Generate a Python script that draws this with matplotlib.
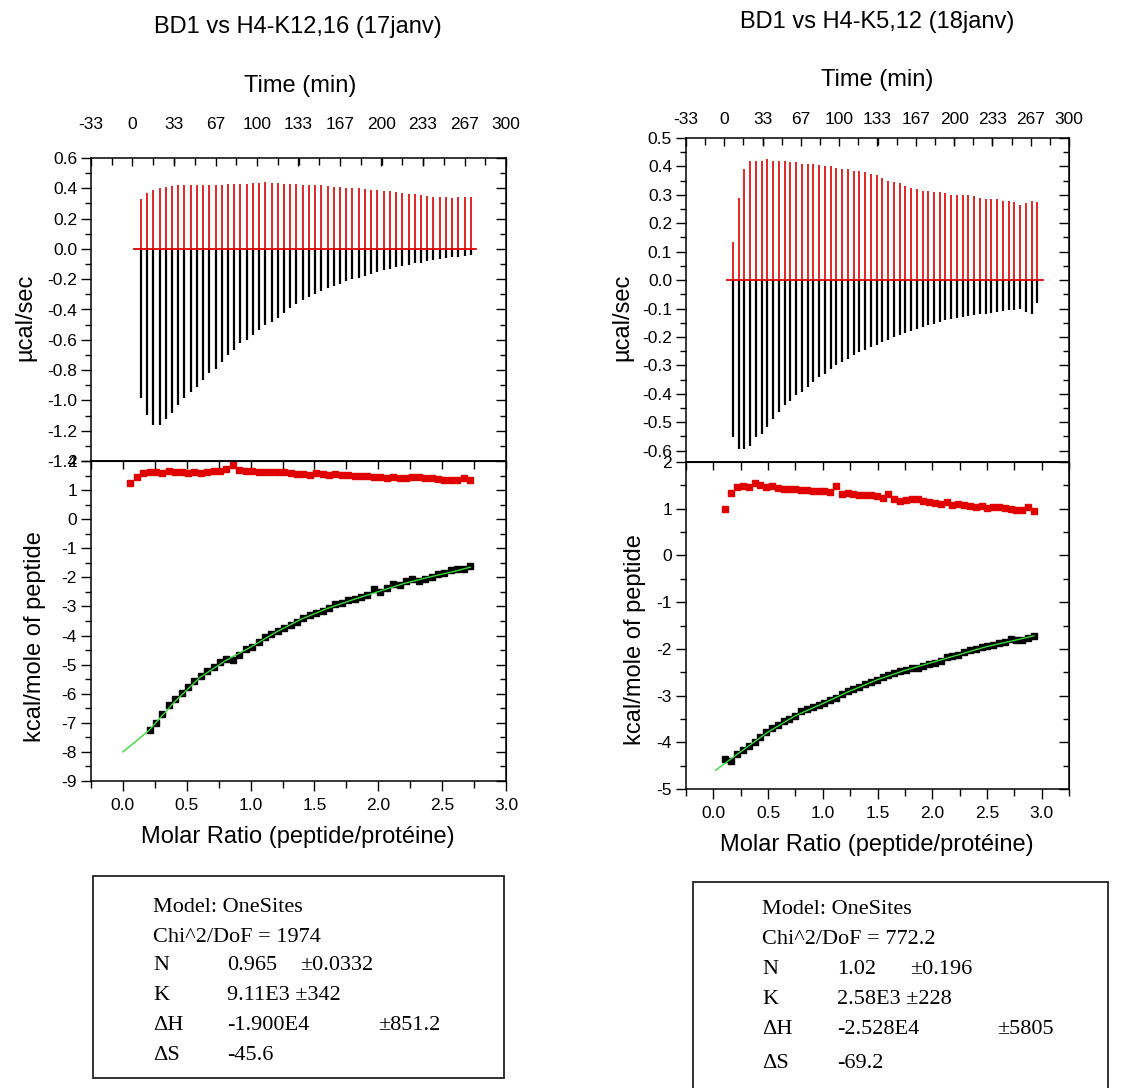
import matplotlib
matplotlib.use("Agg")
import matplotlib.pyplot as plt
from matplotlib.ticker import FixedLocator, MultipleLocator, FormatStrFormatter
from matplotlib.patches import Rectangle

plt.rcParams['font.family'] = ['Liberation Sans', 'DejaVu Sans']
plt.rcParams['axes.unicode_minus'] = False

# ---------------- data ----------------
# left run: BD1 vs H4-K12,16 (17janv)
inj_time_left = [6.7, 11.7, 16.7, 21.7, 26.7, 31.7, 36.7, 41.7, 46.7, 51.7,
                 56.7, 61.7, 66.7, 71.7, 76.7, 81.7, 86.7, 91.7, 96.7, 101.7,
                 106.7, 111.7, 116.7, 121.7, 126.7, 131.7, 136.7, 141.7, 146.7, 151.7,
                 156.7, 161.7, 166.7, 171.7, 176.7, 181.7, 186.7, 191.7, 196.7, 201.7,
                 206.7, 211.7, 216.7, 221.7, 226.7, 231.7, 236.7, 241.7, 246.7, 251.7,
                 256.7, 261.7, 266.7, 271.7]
sample_peak_left = [-0.985, -1.095, -1.16, -1.16, -1.12, -1.085, -1.03, -0.985, -0.945, -0.91,
                    -0.865, -0.82, -0.79, -0.745, -0.70, -0.665, -0.62, -0.60, -0.57, -0.535,
                    -0.505, -0.48, -0.455, -0.425, -0.39, -0.365, -0.34, -0.315, -0.295, -0.275,
                    -0.26, -0.245, -0.23, -0.215, -0.20, -0.19, -0.176, -0.163, -0.152, -0.141,
                    -0.13, -0.12, -0.112, -0.104, -0.096, -0.09, -0.083, -0.076, -0.069, -0.062,
                    -0.056, -0.051, -0.046, -0.04]
ref_peak_left = [0.33, 0.37, 0.39, 0.40, 0.41, 0.415, 0.42, 0.42, 0.42, 0.42,
                 0.42, 0.42, 0.425, 0.425, 0.43, 0.43, 0.43, 0.43, 0.435, 0.435,
                 0.44, 0.435, 0.435, 0.43, 0.43, 0.43, 0.425, 0.425, 0.42, 0.42,
                 0.415, 0.41, 0.41, 0.405, 0.40, 0.40, 0.395, 0.39, 0.39, 0.385,
                 0.38, 0.375, 0.37, 0.365, 0.36, 0.355, 0.35, 0.345, 0.34, 0.34,
                 0.335, 0.34, 0.345, 0.34]
baseline_left = [1.0, 276.0]

ratio_left = [0.058, 0.108, 0.158, 0.209, 0.259, 0.309, 0.359, 0.409, 0.460, 0.510,
              0.560, 0.610, 0.660, 0.711, 0.761, 0.811, 0.861, 0.911, 0.962, 1.012,
              1.062, 1.112, 1.162, 1.213, 1.263, 1.313, 1.363, 1.413, 1.464, 1.514,
              1.564, 1.614, 1.664, 1.715, 1.765, 1.815, 1.865, 1.915, 1.966, 2.016,
              2.066, 2.116, 2.166, 2.217, 2.267, 2.317, 2.367, 2.417, 2.468, 2.518,
              2.568, 2.618, 2.668, 2.719]
ref_heat_left = [1.26, 1.46, 1.60, 1.63, 1.63, 1.60, 1.64, 1.63, 1.62, 1.60,
                 1.62, 1.60, 1.62, 1.64, 1.66, 1.71, 1.86, 1.69, 1.67, 1.64,
                 1.62, 1.61, 1.61, 1.61, 1.61, 1.60, 1.57, 1.55, 1.51, 1.58,
                 1.57, 1.51, 1.55, 1.52, 1.52, 1.50, 1.50, 1.48, 1.44, 1.44,
                 1.40, 1.46, 1.41, 1.41, 1.46, 1.45, 1.43, 1.41, 1.39, 1.35,
                 1.35, 1.35, 1.40, 1.34]
first_sample_left = 3
sample_heat_left = [-7.24, -6.99, -6.71, -6.40, -6.19, -5.96, -5.77, -5.56, -5.39, -5.22,
                    -5.07, -4.91, -4.82, -4.84, -4.67, -4.47, -4.38, -4.22, -4.05, -3.96,
                    -3.84, -3.75, -3.65, -3.52, -3.38, -3.30, -3.21, -3.15, -3.04, -2.93,
                    -2.87, -2.78, -2.75, -2.66, -2.62, -2.41, -2.50, -2.35, -2.24, -2.27,
                    -2.12, -2.04, -2.12, -2.07, -1.98, -1.89, -1.84, -1.75, -1.72, -1.70,
                    -1.61]
fit_x_left = [0.0, 0.2, 0.4, 0.6, 0.8, 1.0, 1.2, 1.4, 1.6, 1.8, 2.0, 2.2, 2.4, 2.6, 2.72]
fit_y_left = [-8.0, -7.28, -6.3, -5.45, -4.87, -4.4, -3.88, -3.43, -3.07, -2.77,
              -2.49, -2.21, -1.99, -1.79, -1.65]

# right run: BD1 vs H4-K5,12 (18janv)
inj_time_right = [7.5, 12.5, 17.5, 22.5, 27.5, 32.5, 37.5, 42.5, 47.5, 52.5,
                  57.5, 62.5, 67.5, 72.5, 77.5, 82.5, 87.5, 92.5, 97.5, 102.5,
                  107.5, 112.5, 117.5, 122.5, 127.5, 132.5, 137.5, 142.5, 147.5, 152.5,
                  157.5, 162.5, 167.5, 172.5, 177.5, 182.5, 187.5, 192.5, 197.5, 202.5,
                  207.5, 212.5, 217.5, 222.5, 227.5, 232.5, 237.5, 242.5, 247.5, 252.5,
                  257.5, 262.5, 267.5, 272.5]
sample_peak_right = [-0.553, -0.594, -0.596, -0.582, -0.553, -0.541, -0.518, -0.488, -0.465, -0.441,
                     -0.424, -0.406, -0.394, -0.376, -0.359, -0.341, -0.329, -0.312, -0.30, -0.288,
                     -0.276, -0.265, -0.253, -0.245, -0.235, -0.227, -0.218, -0.209, -0.20, -0.194,
                     -0.186, -0.179, -0.171, -0.165, -0.159, -0.153, -0.148, -0.141, -0.138, -0.133,
                     -0.129, -0.126, -0.124, -0.12, -0.118, -0.115, -0.112, -0.108, -0.106, -0.104,
                     -0.101, -0.112, -0.118, -0.082]
ref_peak_right = [0.135, 0.29, 0.39, 0.42, 0.42, 0.42, 0.425, 0.42, 0.42, 0.42,
                  0.415, 0.415, 0.41, 0.41, 0.41, 0.405, 0.40, 0.40, 0.395, 0.39,
                  0.39, 0.385, 0.385, 0.38, 0.375, 0.37, 0.36, 0.35, 0.345, 0.34,
                  0.33, 0.325, 0.32, 0.315, 0.315, 0.31, 0.31, 0.305, 0.30, 0.30,
                  0.30, 0.30, 0.295, 0.29, 0.285, 0.285, 0.285, 0.28, 0.28, 0.275,
                  0.265, 0.27, 0.28, 0.275]
baseline_right = [2.0, 277.0]

ratio_right = [0.110, 0.163, 0.216, 0.270, 0.323, 0.376, 0.429, 0.482, 0.536, 0.589,
               0.642, 0.695, 0.748, 0.802, 0.855, 0.908, 0.961, 1.014, 1.068, 1.121,
               1.174, 1.227, 1.280, 1.334, 1.387, 1.440, 1.493, 1.546, 1.600, 1.653,
               1.706, 1.759, 1.812, 1.866, 1.919, 1.972, 2.025, 2.078, 2.132, 2.185,
               2.238, 2.291, 2.344, 2.398, 2.451, 2.504, 2.557, 2.610, 2.664, 2.717,
               2.770, 2.823, 2.876, 2.930]
ref_heat_right = [1.00, 1.33, 1.46, 1.49, 1.47, 1.55, 1.50, 1.47, 1.49, 1.45,
                  1.43, 1.43, 1.42, 1.40, 1.39, 1.38, 1.37, 1.38, 1.36, 1.48,
                  1.32, 1.34, 1.31, 1.29, 1.29, 1.29, 1.28, 1.22, 1.31, 1.21,
                  1.17, 1.18, 1.20, 1.21, 1.17, 1.14, 1.12, 1.10, 1.14, 1.08,
                  1.11, 1.08, 1.05, 1.03, 1.06, 1.02, 1.04, 1.04, 1.01, 0.99,
                  0.98, 0.98, 1.04, 0.95]
sample_heat_right = [-4.36, -4.40, -4.25, -4.16, -4.09, -3.99, -3.88, -3.79, -3.69, -3.64,
                     -3.55, -3.50, -3.43, -3.33, -3.28, -3.25, -3.20, -3.16, -3.10, -3.06,
                     -2.96, -2.91, -2.87, -2.82, -2.76, -2.70, -2.66, -2.61, -2.57, -2.52,
                     -2.48, -2.45, -2.42, -2.40, -2.36, -2.33, -2.30, -2.27, -2.18, -2.16,
                     -2.13, -2.07, -2.03, -2.00, -1.97, -1.94, -1.91, -1.88, -1.85, -1.79,
                     -1.81, -1.80, -1.76, -1.72]
fit_x_right = [0.02, 0.25, 0.5, 0.75, 1.0, 1.25, 1.5, 1.75, 2.0, 2.25, 2.5, 2.75, 2.93]
fit_y_right = [-4.6, -4.2, -3.78, -3.43, -3.17, -2.9, -2.66, -2.46, -2.29, -2.12,
               -1.95, -1.82, -1.72]

time_ticks = [-33.33, 0, 33.33, 66.67, 100, 133.33, 166.67, 200, 233.33, 266.67, 300]
time_labels = ['-33', '0', '33', '67', '100', '133', '167', '200', '233', '267', '300']

titles = ['BD1 vs H4-K12,16 (17janv)', 'BD1 vs H4-K5,12 (18janv)']
fit_rows_left = [('Model: OneSites', '', ''), ('Chi^2/DoF = 1974', '', ''),
                 ('N', '0.965', '\u00b10.0332'), ('K', '9.11E3 \u00b1342', ''),
                 ('\u0394H', '-1.900E4', '\u00b1851.2'), ('\u0394S', '-45.6', '')]
fit_rows_right = [('Model: OneSites', '', ''), ('Chi^2/DoF = 772.2', '', ''),
                  ('N', '1.02', '\u00b10.196'), ('K', '2.58E3 \u00b1228', ''),
                  ('\u0394H', '-2.528E4', '\u00b15805'), ('\u0394S', '-69.2', '')]

# ---------------- figure ----------------
W, H = 1121, 1088
fig = plt.figure(figsize=(W / 100, H / 100), dpi=100)
RED = '#e00000'
GREEN = '#33dd33'
TICK_FS = 12.5
LAB_FS = 17


def px_box(x0, y0, x1, y1):
    # pixel rectangle (top-left origin) -> figure fraction [l, b, w, h]
    return [x0 / W, 1 - y1 / H, (x1 - x0) / W, (y1 - y0) / H]


def style_y(ax, major, minor, fmt):
    ax.yaxis.set_major_locator(MultipleLocator(major))
    ax.yaxis.set_minor_locator(MultipleLocator(minor))
    ax.yaxis.set_major_formatter(FormatStrFormatter(fmt))
    ax.tick_params(axis='y', which='both', left=True, right=False, direction='out',
                   labelsize=TICK_FS, pad=3)
    ax.tick_params(axis='y', which='major', length=7, width=1)
    ax.tick_params(axis='y', which='minor', length=4, width=1)
    sec = ax.secondary_yaxis('right')
    sec.yaxis.set_major_locator(MultipleLocator(major))
    sec.yaxis.set_minor_locator(MultipleLocator(minor))
    sec.tick_params(axis='y', which='both', direction='in', labelright=False, width=1)
    sec.tick_params(axis='y', which='major', length=7)
    sec.tick_params(axis='y', which='minor', length=4)


def draw_run(boxes, t, samp, ref, base, ylim_top, ymaj_top, ymin_top,
             ratio, refh, first, samph, fx, fy, xlim_bot, ylim_bot, top_pad):
    top_box, bot_box = boxes
    ax1 = fig.add_axes(px_box(*top_box))
    ax2 = fig.add_axes(px_box(*bot_box))

    # raw thermogram
    ax1.vlines(t, 0, samp, color='black', lw=1.6)
    ax1.plot(base, [0, 0], color=RED, lw=1.3)
    ax1.vlines(t, 0, ref, color=RED, lw=1.2)
    ax1.set_xlim(-33.33, 300)
    ax1.set_ylim(*ylim_top)
    ax1.xaxis.set_major_locator(FixedLocator(time_ticks))
    ax1.xaxis.set_minor_locator(MultipleLocator(16.667))
    ax1.set_xticklabels(time_labels)
    ax1.tick_params(axis='x', which='both', top=True, bottom=False, labeltop=True,
                    labelbottom=False, direction='in', labelsize=TICK_FS, pad=top_pad)
    ax1.tick_params(axis='x', which='major', length=6, width=1)
    ax1.tick_params(axis='x', which='minor', length=5, width=1)
    style_y(ax1, ymaj_top, ymin_top, '%.1f')

    # integrated heats
    ax2.plot(ratio, refh, 's', color=RED, ms=4, mec=RED)
    ax2.plot(ratio[first:], samph, 's', color='black', ms=4)
    ax2.plot(fx, fy, color=GREEN, lw=1.0)
    ax2.set_xlim(*xlim_bot)
    ax2.set_ylim(*ylim_bot)
    ax2.xaxis.set_major_locator(MultipleLocator(0.5))
    ax2.xaxis.set_minor_locator(MultipleLocator(0.25))
    ax2.xaxis.set_major_formatter(FormatStrFormatter('%.1f'))
    ax2.tick_params(axis='x', which='both', direction='out', labelsize=TICK_FS, pad=5, width=1)
    ax2.tick_params(axis='x', which='major', length=7)
    ax2.tick_params(axis='x', which='minor', length=5)
    sx = ax2.secondary_xaxis('top')
    sx.xaxis.set_major_locator(MultipleLocator(0.25))
    sx.tick_params(axis='x', which='both', direction='in', labeltop=False, length=6, width=1)
    style_y(ax2, 1, 0.5, '%d')

    for a in (ax1, ax2):
        for s in a.spines.values():
            s.set_linewidth(1.1)
    return ax1, ax2


draw_run(((91, 158, 506, 461), (91, 461, 506, 781)),
         inj_time_left, sample_peak_left, ref_peak_left, baseline_left,
         (-1.4, 0.6), 0.2, 0.1,
         ratio_left, ref_heat_left, first_sample_left, sample_heat_left,
         fit_x_left, fit_y_left, (-0.25, 3.0), (-9, 2), 19)

draw_run(((686, 138, 1069, 462), (686, 462, 1069, 789)),
         inj_time_right, sample_peak_right, ref_peak_right, baseline_right,
         (-0.64, 0.5), 0.1, 0.05,
         ratio_right, ref_heat_right, 0, sample_heat_right,
         fit_x_right, fit_y_right, (-0.25, 3.25), (-5, 2), 8)

# texts around the axes
fig.text(298 / W, 1 - 27 / H, titles[0], ha='center', va='center', fontsize=LAB_FS)
fig.text(877 / W, 1 - 22 / H, titles[1], ha='center', va='center', fontsize=LAB_FS)
fig.text(300 / W, 1 - 86 / H, 'Time (min)', ha='center', va='center', fontsize=LAB_FS)
fig.text(877 / W, 1 - 80 / H, 'Time (min)', ha='center', va='center', fontsize=LAB_FS)
fig.text(25 / W, 1 - 317 / H, '\u00b5cal/sec', rotation=90, ha='center', va='center', fontsize=LAB_FS)
fig.text(622 / W, 1 - 317 / H, '\u00b5cal/sec', rotation=90, ha='center', va='center', fontsize=LAB_FS)
fig.text(35 / W, 1 - 637 / H, 'kcal/mole of peptide', rotation=90, ha='center', va='center', fontsize=LAB_FS)
fig.text(635 / W, 1 - 640 / H, 'kcal/mole of peptide', rotation=90, ha='center', va='center', fontsize=LAB_FS)
fig.text(298 / W, 1 - 837 / H, 'Molar Ratio (peptide/prot\u00e9ine)', ha='center', va='center', fontsize=LAB_FS)
fig.text(877 / W, 1 - 845 / H, 'Molar Ratio (peptide/prot\u00e9ine)', ha='center', va='center', fontsize=LAB_FS)


def fill_box(rect, rows, x_lab, x_val, x_errs, y_lines):
    x0, y0, x1, y1 = rect
    fig.patches.append(Rectangle((x0 / W, 1 - y1 / H), (x1 - x0) / W, (y1 - y0) / H,
                                 transform=fig.transFigure, fill=False, lw=1.3,
                                 edgecolor='#222222', clip_on=False))
    kw = dict(ha='left', va='center', fontsize=16, family=['Liberation Serif', 'DejaVu Serif'])
    for (lab, val, err), y, xe in zip(rows, y_lines, x_errs):
        fig.text(x_lab / W, 1 - y / H, lab, **kw)
        if val:
            fig.text(x_val / W, 1 - y / H, val, **kw)
        if err:
            fig.text(xe / W, 1 - y / H, err, **kw)


fill_box((93, 876, 504, 1078), fit_rows_left, 153, 227,
         [0, 0, 300, 0, 378, 0], [908, 937, 965, 995, 1025, 1055])
fill_box((693, 882, 1108, 1100), fit_rows_right, 762, 837,
         [0, 0, 910, 0, 997, 0], [910, 940, 970, 1000, 1030, 1063])

fig.savefig('out.png', dpi=100, facecolor='white')
